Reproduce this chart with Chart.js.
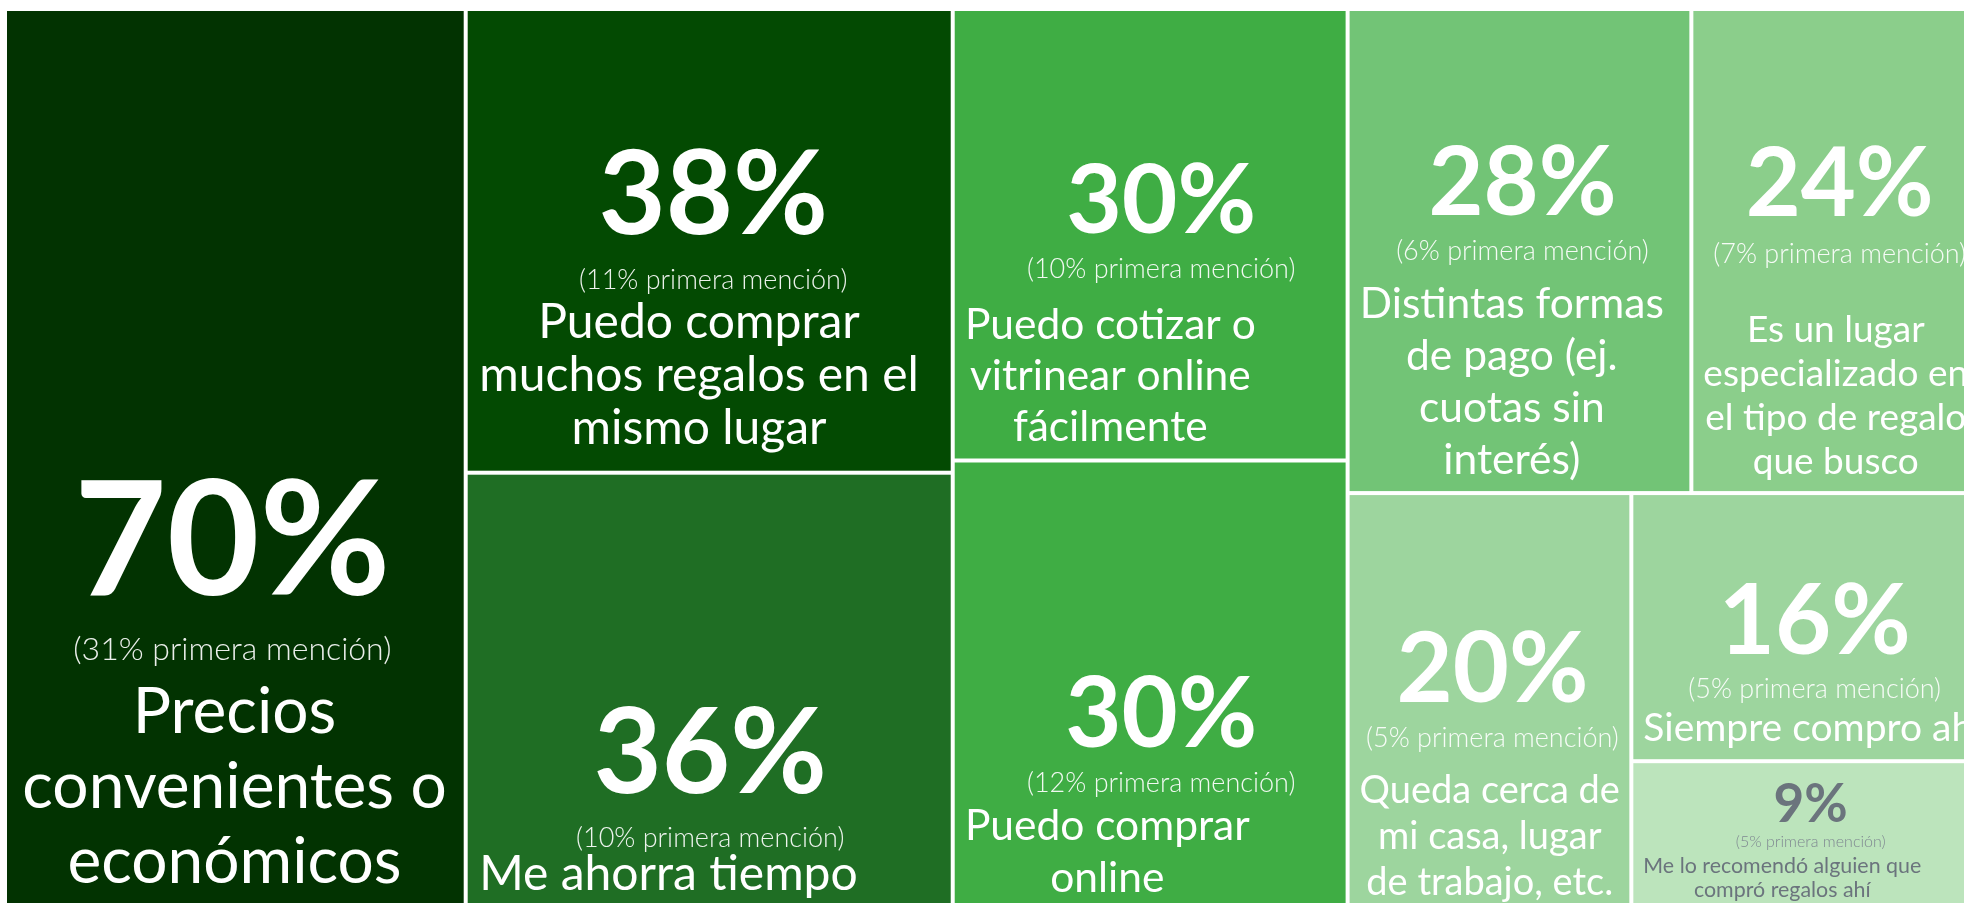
<!DOCTYPE html>
<html lang="es">
<head>
    <meta charset="UTF-8">
    <title>Razones para comprar regalos</title>
    <script src="https://cdn.jsdelivr.net/npm/chart.js"></script>
    <style>
        html, body { margin: 0; padding: 0; background: #ffffff; overflow: hidden; }
        canvas { display: block; }
    </style>
</head>
<body>
    <canvas id="treemapChart" width="1990" height="916"></canvas>

    <script>
        // Data
        const reasons = [
            ['Precios', 'convenientes o', 'económicos'],
            ['Puedo comprar', 'muchos regalos en el', 'mismo lugar'],
            ['Me ahorra tiempo'],
            ['Puedo cotizar o', 'vitrinear online', 'fácilmente'],
            ['Puedo comprar', 'online'],
            ['Distintas formas', 'de pago (ej.', 'cuotas sin', 'interés)'],
            ['Es un lugar', 'especializado en', 'el tipo de regalo', 'que busco'],
            ['Queda cerca de', 'mi casa, lugar', 'de trabajo, etc.'],
            ['Siempre compro ahí'],
            ['Me lo recomendó alguien que', 'compró regalos ahí']
        ];
        const totalMention = [70, 38, 36, 30, 30, 28, 24, 20, 16, 9];
        const firstMention = [31, 11, 10, 10, 12, 6, 7, 5, 5, 5];

        // Styles
        const cellColors = ['#023301', '#034a02', '#1f6e24', '#3fad44', '#3fad44',
                            '#72c476', '#8bce8b', '#9dd59e', '#9dd59e', '#bce4bc'];
        const textColors = ['#fff', '#fff', '#fff', '#fff', '#fff', '#fff', '#fff', '#fff', '#fff', '#6b747d'];
        // pct/sub/label font sizes, label line height, bottom pad, gap sub->label, gap pct->sub, x shift of pct/sub
        const textStyles = [
            { pct: 160, sub: 32, label: 64,   lh: 75, pad: 27, gapL: 73, gapP: 65, dx: -3 },
            { pct: 116, sub: 27, label: 48,   lh: 53, pad: 27, gapL: 49, gapP: 55, dx: 4 },
            { pct: 118, sub: 27, label: 48,   lh: 50, pad: 20, gapL: 43, gapP: 54, dx: 1 },
            { pct: 96,  sub: 27, label: 42.5, lh: 51, pad: 18, gapL: 61, gapP: 45, dx: 11 },
            { pct: 97,  sub: 27, label: 42.5, lh: 52, pad: 18, gapL: 48, gapP: 45, dx: 11 },
            { pct: 95,  sub: 27, label: 42.5, lh: 52, pad: 17, gapL: 58, gapP: 45, dx: 3 },
            { pct: 95,  sub: 27, label: 37,   lh: 44, pad: 17, gapL: 79, gapP: 47, dx: 1 },
            { pct: 97,  sub: 27, label: 38,   lh: 46, pad: 15, gapL: 56, gapP: 45, dx: 3 },
            { pct: 97,  sub: 27, label: 39,   lh: 46, pad: 18, gapL: 43, gapP: 44, dx: 6 },
            { pct: 53,  sub: 16, label: 21.4, lh: 24, pad: 13, gapL: 26, gapP: 25, dx: 2 }
        ];
        const gap = 2;

        // squarified treemap layout
        function worst(row, side) {
            const s = row.reduce((a, b) => a + b, 0);
            const max = Math.max(...row), min = Math.min(...row);
            return Math.max(side * side * max / (s * s), (s * s) / (side * side * min));
        }

        function squarify(values, x, y, w, h) {
            const total = values.reduce((a, b) => a + b, 0);
            const areas = values.map(v => v * w * h / total);
            const out = [];
            let i = 0;
            while (i < areas.length) {
                const side = Math.min(w, h);
                let row = [areas[i]];
                let j = i + 1;
                while (j < areas.length) {
                    const next = row.concat(areas[j]);
                    if (worst(next, side) > worst(row, side)) break;
                    row = next;
                    j++;
                }
                const s = row.reduce((a, b) => a + b, 0);
                if (w >= h) {
                    const cw = s / h;
                    let cy = y;
                    row.forEach(a => { const ch = a / cw; out.push({ x: x, y: cy, w: cw, h: ch }); cy += ch; });
                    x += cw; w -= cw;
                } else {
                    const rh = s / w;
                    let cx = x;
                    row.forEach(a => { const rw = a / rh; out.push({ x: cx, y: y, w: rw, h: rh }); cx += rw; });
                    y += rh; h -= rh;
                }
                i = j;
            }
            return out;
        }

        const treemapPlugin = {
            id: 'treemapCells',
            afterDatasetsDraw(chart) {
                const ctx = chart.ctx;
                const xs = chart.scales.x, ys = chart.scales.y;
                const left = xs.getPixelForValue(0), right = xs.getPixelForValue(100);
                const top = ys.getPixelForValue(100), bottom = ys.getPixelForValue(0);
                const cells = squarify(totalMention, left, top, right - left, bottom - top);

                ctx.save();
                cells.forEach((c, i) => {
                    const r = { x: c.x + gap, y: c.y + gap, w: c.w - 2 * gap, h: c.h - 2 * gap };
                    ctx.fillStyle = cellColors[i];
                    ctx.fillRect(r.x, r.y, r.w, r.h);

                    const st = textStyles[i];
                    const lines = reasons[i];
                    const isDark = textColors[i] !== '#fff';
                    ctx.textAlign = 'center';
                    ctx.textBaseline = 'alphabetic';

                    // label: block left-aligned, lines centred on widest line
                    ctx.font = '400 ' + st.label + 'px Lato';
                    const widest = Math.max(...lines.map(l => ctx.measureText(l).width));
                    const inset = Math.max(10, st.label * 0.24);
                    const blockCx = r.x + inset + widest / 2;
                    const lastBase = r.y + r.h - st.pad;
                    const firstBase = lastBase - (lines.length - 1) * st.lh;
                    ctx.fillStyle = textColors[i];
                    lines.forEach((l, k) => ctx.fillText(l, blockCx, firstBase + k * st.lh));

                    const cx = r.x + r.w / 2 + st.dx;
                    const subBase = firstBase - st.gapL;
                    ctx.font = '300 ' + st.sub + 'px Lato';
                    ctx.fillStyle = isDark ? '#7f8891' : 'rgba(255,255,255,0.92)';
                    ctx.fillText('(' + firstMention[i] + '% primera mención)', cx, subBase);

                    ctx.font = '700 ' + st.pct + 'px Lato';
                    ctx.fillStyle = textColors[i];
                    ctx.fillText(totalMention[i] + '%', cx, subBase - st.gapP);
                });
                ctx.restore();
            }
        };

        const ctx = document.getElementById('treemapChart').getContext('2d');
        const treemapChart = new Chart(ctx, {
            type: 'scatter',
            data: { datasets: [{ data: [] }] },
            options: {
                responsive: false,
                animation: false,
                devicePixelRatio: 1,
                layout: { padding: { left: 5, top: 9, right: 4, bottom: 4 } },
                plugins: { legend: { display: false }, tooltip: { enabled: false } },
                scales: {
                    x: { type: 'linear', min: 0, max: 100, display: false },
                    y: { type: 'linear', min: 0, max: 100, display: false }
                }
            },
            plugins: [treemapPlugin]
        });
    </script>
</body>
</html>
